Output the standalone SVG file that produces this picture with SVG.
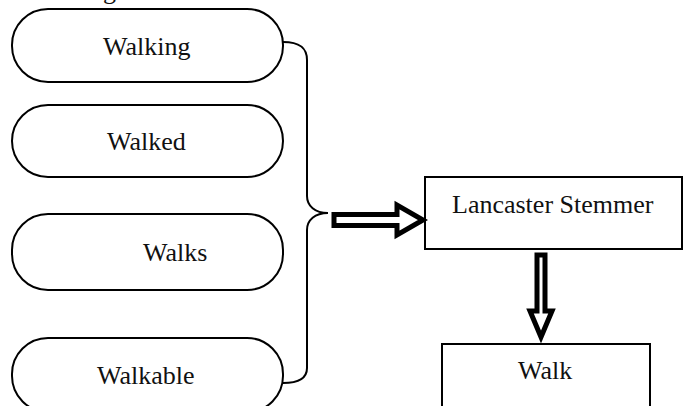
<svg xmlns="http://www.w3.org/2000/svg" width="688" height="406" viewBox="0 0 688 406">
<style>
.pill{fill:#fff;stroke:#000;stroke-width:2}
.box{fill:#fff;stroke:#000;stroke-width:2}
.lbl{font-family:"Liberation Serif","Times New Roman",serif;font-size:26px;fill:#111}
.brace{fill:none;stroke:#000;stroke-width:2}
.block{fill:#fff;stroke:#000;stroke-width:5;stroke-linejoin:miter}
</style>
<rect width="688" height="406" fill="#fff"/>
<text class="lbl" x="103" y="-1">g</text>
<g id="walking">
<rect class="pill" x="12" y="9" width="271" height="73" rx="36" ry="36"/>
<text class="lbl" x="103" y="55">Walking</text>
</g>
<g id="walked">
<rect class="pill" x="12" y="105" width="271" height="72" rx="36" ry="36"/>
<text class="lbl" x="107" y="150">Walked</text>
</g>
<g id="walks">
<rect class="pill" x="12" y="214" width="271" height="76" rx="36" ry="36"/>
<text class="lbl" x="143" y="261">Walks</text>
</g>
<g id="walkable">
<rect class="pill" x="12" y="338" width="271" height="74" rx="36" ry="36"/>
<text class="lbl" x="97" y="384">Walkable</text>
</g>
<g id="lancaster">
<rect class="box" x="425" y="177" width="257" height="72"/>
<text class="lbl" x="452" y="213">Lancaster Stemmer</text>
</g>
<g id="walk">
<rect class="box" x="442" y="344" width="208" height="70"/>
<text class="lbl" x="518" y="379">Walk</text>
</g>
<g id="connectors">
<path class="brace" d="M283,42 C300,42 307,48 307,60 L307,196 C307,206 315,213 328,213 C315,213 307,220 307,230 L307,368 C307,378 298,383 283,383"/>
<polygon class="block" points="334,214.5 397,214.5 397,205 423,220 397,235 397,225.5 334,225.5"/>
<polygon class="block" points="537,255 545,255 545,311 552,311 541,337 530,311 537,311"/>
</g>
</svg>
